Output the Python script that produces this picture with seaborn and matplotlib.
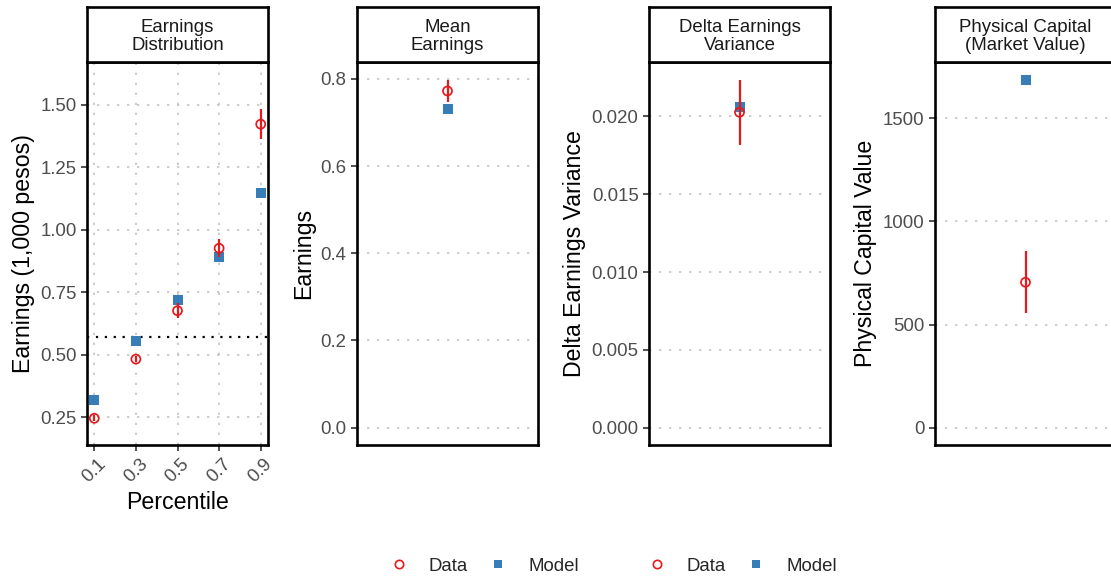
import numpy as np
import pandas as pd
import seaborn as sns
import matplotlib.pyplot as plt
from matplotlib.lines import Line2D
from matplotlib.ticker import FixedLocator, FormatStrFormatter

# earnings distribution (panel 1)
pctl = [0.1, 0.3, 0.5, 0.7, 0.9]
earn_data = [0.245, 0.482, 0.676, 0.926, 1.423]
earn_data_err = [0.012, 0.012, 0.030, 0.036, 0.061]
earn_model = [0.319, 0.556, 0.718, 0.892, 1.149]
earn_ref = 0.570

# single moment panels
moment_titles = ["Mean\nEarnings", "Delta Earnings\nVariance", "Physical Capital\n(Market Value)"]
moment_ylabels = ["Earnings", "Delta Earnings Variance", "Physical Capital Value"]
moment_data = [0.7725, 0.02026, 705]
moment_data_err = [0.025, 0.00208, 150]
moment_model = [0.7305, 0.0206, 1684]

RED = "#E41A1C"
BLUE = "#377EB8"
SMALL = 13.4
BIG = 16.7
GRID = dict(color="#c4c4c4", linestyle=(0, (1.4, 4.6)), lw=1.2)

sns.set_theme(style="white")
plt.rcParams["font.family"] = ["Liberation Sans", "DejaVu Sans"]

W, H = 1111, 580
fig = plt.figure(figsize=(W / 100, H / 100), dpi=100)
lefts = [87, 357, 649, 935]
pw = 181


def make_panel(i, title):
    ax = fig.add_axes([lefts[i] / W, 1 - 445 / H, pw / W, 383 / H])
    for s in ax.spines.values():
        s.set_color("black")
        s.set_linewidth(1.9)
    ax.tick_params(axis="y", left=True, length=4, width=1.2, color="#333333",
                   labelcolor="#4d4d4d", labelsize=SMALL, pad=3.5)
    ax.grid(True, axis="y", **GRID)
    strip = fig.add_axes([lefts[i] / W, 1 - 62 / H, pw / W, 55 / H])
    strip.set_xticks([])
    strip.set_yticks([])
    for s in strip.spines.values():
        s.set_color("black")
        s.set_linewidth(1.9)
    strip.text(0.5, 0.47, title, ha="center", va="center", fontsize=SMALL,
               color="#1a1a1a", linespacing=1.1, transform=strip.transAxes)
    return ax


def draw_points(ax, x, data, err, model):
    dm = pd.DataFrame({"x": x, "y": model})
    dd = pd.DataFrame({"x": x, "y": data})
    sns.scatterplot(data=dm, x="x", y="y", marker="s", s=46, color=BLUE,
                    linewidth=0, ax=ax, zorder=3)
    ax.vlines(x, np.array(data) - np.array(err), np.array(data) + np.array(err),
              color=RED, lw=1.6, zorder=4)
    sns.scatterplot(data=dd, x="x", y="y", marker="o", s=42, facecolor="none",
                    edgecolor=RED, linewidth=1.25, ax=ax, zorder=5)


# panel 1
ax = make_panel(0, "Earnings\nDistribution")
draw_points(ax, pctl, earn_data, earn_data_err, earn_model)
ax.axhline(earn_ref, color="black", linestyle=(0, (1, 3)), lw=1.6, zorder=2)
ax.grid(True, axis="x", **GRID)
ax.set_xlim(0.065, 0.935)
ax.set_ylim(0.138, 1.672)
ax.xaxis.set_major_locator(FixedLocator(pctl))
ax.xaxis.set_major_formatter(FormatStrFormatter("%.1f"))
ax.yaxis.set_major_locator(FixedLocator([0.25, 0.5, 0.75, 1.0, 1.25, 1.5]))
ax.yaxis.set_major_formatter(FormatStrFormatter("%.2f"))
ax.tick_params(axis="x", bottom=True, length=4, width=1.2, color="#333333",
               labelcolor="#4d4d4d", labelsize=SMALL, pad=3.5)
for t in ax.get_xticklabels():
    t.set_rotation(45)
    t.set_ha("center")
ax.set_xlabel("Percentile", fontsize=BIG, color="black")
ax.set_ylabel("Earnings (1,000 pesos)", fontsize=BIG, color="black")

# panels 2-4
ylims = [(-0.04, 0.839), (-0.00111, 0.02349), (-84, 1773)]
yticks = [[0, 0.2, 0.4, 0.6, 0.8], [0, 0.005, 0.01, 0.015, 0.02], [0, 500, 1000, 1500]]
yfmts = ["%.1f", "%.3f", "%.0f"]
for k in range(3):
    ax = make_panel(k + 1, moment_titles[k])
    draw_points(ax, [0], [moment_data[k]], [moment_data_err[k]], [moment_model[k]])
    ax.set_xlim(-0.6, 0.6)
    ax.set_ylim(*ylims[k])
    ax.set_xticks([])
    ax.yaxis.set_major_locator(FixedLocator(yticks[k]))
    ax.yaxis.set_major_formatter(FormatStrFormatter(yfmts[k]))
    ax.set_xlabel("")
    ax.set_ylabel(moment_ylabels[k], fontsize=BIG, color="black")

# legends
handles = [
    Line2D([], [], marker="o", ls="", mfc="none", mec=RED, mew=1.2, ms=6),
    Line2D([], [], marker="s", ls="", mfc=BLUE, mec=BLUE, mew=0, ms=6.2),
]
for cx in [0.4365, 0.6688]:
    fig.legend(handles, ["Data", "Model"], loc="center", bbox_to_anchor=(cx, 0.024),
               ncol=2, frameon=False, fontsize=SMALL, handlelength=0.8,
               handletextpad=1.2, columnspacing=1.25)

fig.savefig("out.png", dpi=100, facecolor="white")
